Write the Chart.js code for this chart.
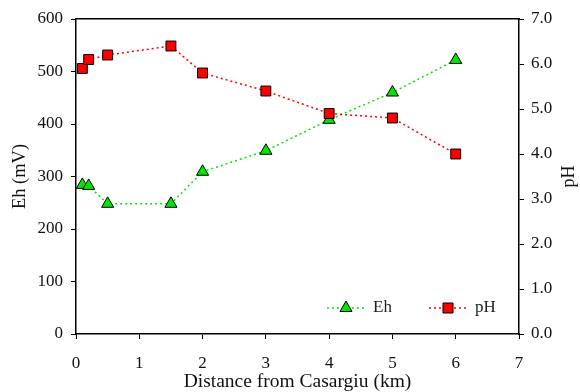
<!DOCTYPE html>
<html>
<head>
<meta charset="utf-8">
<script src="https://cdn.jsdelivr.net/npm/chart.js@4/dist/chart.umd.min.js"></script>
<style>
  html, body { margin: 0; padding: 0; background: #fff; }
  #wrap { width: 580px; height: 392px; }
</style>
</head>
<body>
<div id="wrap"><canvas id="grafico" width="580" height="392"></canvas></div>
<script>
// distancia (km) e valores
const distancia = [0.1, 0.2, 0.5, 1.5, 2, 3, 4, 5, 6];
const valoresEh = [284, 282, 248, 248, 309, 349, 408, 460, 522];
const valoresPH = [5.9, 6.1, 6.2, 6.4, 5.8, 5.4, 4.9, 4.8, 4.0];
const ticksX = [0, 1, 2, 3, 4, 5, 6, 7];
const ticksEh = [0, 100, 200, 300, 400, 500, 600];
const ticksPH = [0, 1, 2, 3, 4, 5, 6, 7];

const fonte = "'Liberation Serif', 'Times New Roman', serif";
const verde = "#00e600";
const vermelho = "#ff0000";

function pontos(xs, ys) {
  return xs.map((x, i) => ({ x: x, y: ys[i] }));
}

// legenda dentro da área do gráfico e título do eixo direito (lido de baixo p/ cima)
const extras = {
  id: "extras",
  afterDraw(chart) {
    const ctx = chart.ctx;
    const area = chart.chartArea;
    const y = area.bottom - 26;
    const itens = [
      { x: area.left + 251, cor: verde, forma: "tri", texto: "Eh" },
      { x: area.left + 353, cor: vermelho, forma: "quad", texto: "pH" },
    ];
    ctx.save();
    itens.forEach((it) => {
      ctx.strokeStyle = it.cor;
      ctx.lineWidth = 1.5;
      ctx.setLineDash([2, 3]);
      ctx.beginPath();
      ctx.moveTo(it.x, y);
      ctx.lineTo(it.x + 38, y);
      ctx.stroke();
      ctx.setLineDash([]);
      const cx = it.x + 19;
      ctx.fillStyle = it.cor;
      ctx.strokeStyle = "#000";
      ctx.lineWidth = 1;
      ctx.beginPath();
      if (it.forma === "tri") {
        ctx.moveTo(cx, y - 7);
        ctx.lineTo(cx + 6, y + 3.5);
        ctx.lineTo(cx - 6, y + 3.5);
        ctx.closePath();
      } else {
        ctx.rect(cx - 5, y - 5, 10, 10);
      }
      ctx.fill();
      ctx.stroke();
      ctx.fillStyle = "#222";
      ctx.font = "17px " + fonte;
      ctx.textBaseline = "middle";
      ctx.textAlign = "left";
      ctx.fillText(it.texto, it.x + 46, y);
    });

    // título "pH" à direita
    ctx.translate(chart.width - 11, (area.top + area.bottom) / 2);
    ctx.rotate(-Math.PI / 2);
    ctx.fillStyle = "#111";
    ctx.font = "18px " + fonte;
    ctx.textAlign = "center";
    ctx.textBaseline = "middle";
    ctx.fillText("pH", 0, 0);
    ctx.restore();
  },
};

const ctx = document.getElementById("grafico");
new Chart(ctx, {
  type: "line",
  data: {
    datasets: [
      {
        label: "pH",
        data: pontos(distancia, valoresPH),
        yAxisID: "yPH",
        borderColor: vermelho,
        borderWidth: 1.5,
        borderDash: [2, 3],
        pointStyle: "rect",
        pointRadius: 7,
        pointBackgroundColor: vermelho,
        pointBorderColor: "#000",
        pointBorderWidth: 1,
        tension: 0,
        order: 0,
      },
      {
        label: "Eh",
        data: pontos(distancia, valoresEh),
        yAxisID: "yEh",
        borderColor: verde,
        borderWidth: 1.5,
        borderDash: [2, 3],
        pointStyle: "triangle",
        pointRadius: 7,
        pointBackgroundColor: verde,
        pointBorderColor: "#000",
        pointBorderWidth: 1,
        tension: 0,
        order: 1,
      },
    ],
  },
  options: {
    responsive: false,
    animation: false,
    layout: { padding: { top: 19, left: 0, right: 0, bottom: 0 } },
    plugins: {
      legend: { display: false },
      tooltip: { enabled: false },
    },
    scales: {
      x: {
        type: "linear",
        min: 0,
        max: 7,
        afterBuildTicks: (s) => { s.ticks = ticksX.map((v) => ({ value: v })); },
        afterFit: (s) => { s.height = 58; },
        border: { color: "#000", width: 1.5 },
        grid: { drawOnChartArea: false, tickLength: 5, color: "#000", tickWidth: 1 },
        ticks: { color: "#111", padding: 14, font: { family: fonte, size: 17 } },
        title: {
          display: true,
          text: "Distance from Casargiu (km)",
          color: "#111",
          padding: { top: -2, bottom: -2 },
          font: { family: fonte, size: 19.5 },
        },
      },
      xTopo: {
        type: "linear",
        position: "top",
        min: 0,
        max: 7,
        display: true,
        afterFit: (s) => { s.height = 0; },
        border: { color: "#000", width: 1.5 },
        grid: { display: false },
        ticks: { display: false },
      },
      yEh: {
        type: "linear",
        position: "left",
        min: 0,
        max: 600,
        afterBuildTicks: (s) => { s.ticks = ticksEh.map((v) => ({ value: v })); },
        afterFit: (s) => { s.width = 76; },
        border: { color: "#000", width: 1.5 },
        grid: { drawOnChartArea: false, tickLength: 5, color: "#000", tickWidth: 1 },
        ticks: { color: "#111", padding: 8, font: { family: fonte, size: 17 } },
        title: {
          display: true,
          text: "Eh (mV)",
          color: "#111",
          padding: { top: 9, bottom: 0 },
          font: { family: fonte, size: 18.5 },
        },
      },
      yPH: {
        type: "linear",
        position: "right",
        min: 0,
        max: 7,
        afterBuildTicks: (s) => { s.ticks = ticksPH.map((v) => ({ value: v })); },
        afterFit: (s) => { s.width = 61; },
        border: { color: "#000", width: 1.5 },
        grid: { drawOnChartArea: false, tickLength: 5, color: "#000", tickWidth: 1 },
        ticks: {
          color: "#111",
          padding: 7,
          font: { family: fonte, size: 17 },
          callback: (v) => v.toFixed(1),
        },
        title: { display: false },
      },
    },
  },
  plugins: [extras],
});
</script>
</body>
</html>
